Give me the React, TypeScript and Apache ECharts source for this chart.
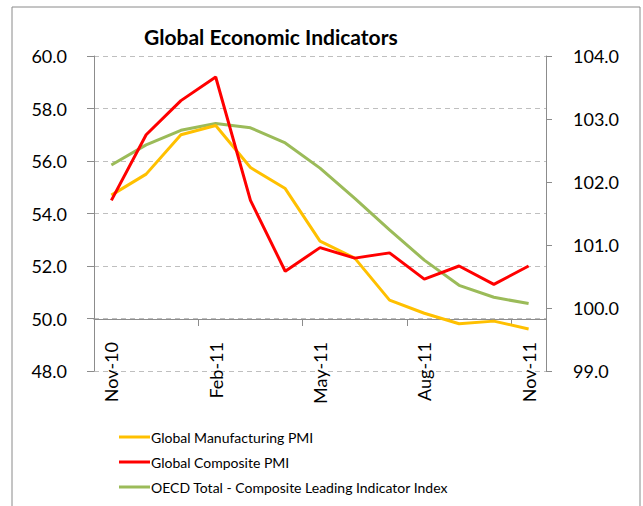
import React, { useEffect, useRef } from "react";
import * as echarts from "echarts";

const categories = ["Nov-10", "Dec-10", "Jan-11", "Feb-11", "Mar-11", "Apr-11", "May-11", "Jun-11", "Jul-11", "Aug-11", "Sep-11", "Oct-11", "Nov-11"];
const manufacturingPMI = [54.7, 55.5, 57.0, 57.35, 55.75, 54.95, 52.95, 52.3, 50.7, 50.2, 49.8, 49.9, 49.6];
const compositePMI = [54.5, 57.0, 58.3, 59.2, 54.5, 51.8, 52.7, 52.3, 52.5, 51.5, 52.0, 51.3, 52.0];
const oecdCLI = [102.27, 102.59, 102.82, 102.93, 102.86, 102.62, 102.22, 101.74, 101.24, 100.76, 100.36, 100.17, 100.07];
const seriesNames = ["Global Manufacturing PMI", "Global Composite PMI", "OECD Total - Composite Leading Indicator Index"];
const seriesColors = ["#FFC000", "#FF0000", "#9BBB59"];

const FONT = "Lato";

export default function App() {
  const ref = useRef<HTMLDivElement>(null);
  useEffect(() => {
    if (!ref.current) return;
    const chart = echarts.init(ref.current, undefined, { renderer: "svg" });
    const axisGray = "#8c8c8c";
    chart.setOption({
      animation: false,
      backgroundColor: "#ffffff",
      title: {
        text: "Global Economic Indicators",
        left: 139,
        top: 21,
        textStyle: { fontFamily: FONT, fontSize: 21, fontWeight: "bold", color: "#000" },
      },
      graphic: [
        {
          type: "rect",
          shape: { x: 12, y: 7, width: 628, height: 520 },
          style: { fill: "none", stroke: "#8a8a8a", lineWidth: 1 },
          silent: true,
        },
      ],
      legend: {
        orient: "vertical",
        left: 114,
        top: 424,
        itemWidth: 31,
        itemHeight: 3,
        itemGap: 9,
        icon: "rect",
        textStyle: { fontFamily: FONT, fontSize: 14, color: "#000", lineHeight: 16, padding: [0, 0, 0, -4] },
        data: seriesNames,
      },
      grid: { left: 94, right: 97, top: 56, bottom: 135, containLabel: false },
      xAxis: {
        type: "category",
        data: categories,
        boundaryGap: true,
        position: "bottom",
        offset: -52,
        axisLine: { show: true, lineStyle: { color: axisGray, width: 1 } },
        axisTick: { show: true, interval: 2, length: 7, lineStyle: { color: axisGray } },
        axisLabel: {
          interval: 2,
          rotate: 90,
          margin: 23,
          fontFamily: FONT,
          fontSize: 18,
          color: "#000",
        },
        splitLine: { show: false },
      },
      yAxis: [
        {
          type: "value",
          min: 48,
          max: 60,
          interval: 2,
          position: "left",
          axisLine: { show: true, lineStyle: { color: axisGray } },
          axisTick: { show: true, length: 7, lineStyle: { color: axisGray } },
          axisLabel: {
            margin: 27,
            fontFamily: FONT,
            fontSize: 18,
            color: "#000",
            formatter: (v: number) => v.toFixed(1),
          },
          splitLine: { show: true, lineStyle: { color: "#bfbfbf", type: [5, 4], width: 1 } },
        },
        {
          type: "value",
          min: 99,
          max: 104,
          interval: 1,
          position: "right",
          axisLine: { show: true, lineStyle: { color: axisGray } },
          axisTick: { show: true, length: 6, lineStyle: { color: axisGray } },
          axisLabel: {
            margin: 27,
            fontFamily: FONT,
            fontSize: 18,
            color: "#000",
            formatter: (v: number) => v.toFixed(1),
          },
          splitLine: { show: false },
        },
      ],
      series: [
        {
          name: seriesNames[0],
          type: "line",
          data: manufacturingPMI,
          yAxisIndex: 0,
          symbol: "none",
          color: seriesColors[0],
          lineStyle: { color: seriesColors[0], width: 3 },
          z: 3,
        },
        {
          name: seriesNames[1],
          type: "line",
          data: compositePMI,
          yAxisIndex: 0,
          symbol: "none",
          color: seriesColors[1],
          lineStyle: { color: seriesColors[1], width: 3 },
          z: 4,
        },
        {
          name: seriesNames[2],
          type: "line",
          data: oecdCLI,
          yAxisIndex: 1,
          symbol: "none",
          color: seriesColors[2],
          lineStyle: { color: seriesColors[2], width: 3 },
          z: 2,
        },
      ],
    });
    return () => chart.dispose();
  }, []);
  return <div ref={ref} style={{ position: "fixed", left: 0, top: 0, width: 643, height: 506 }} />;
}
